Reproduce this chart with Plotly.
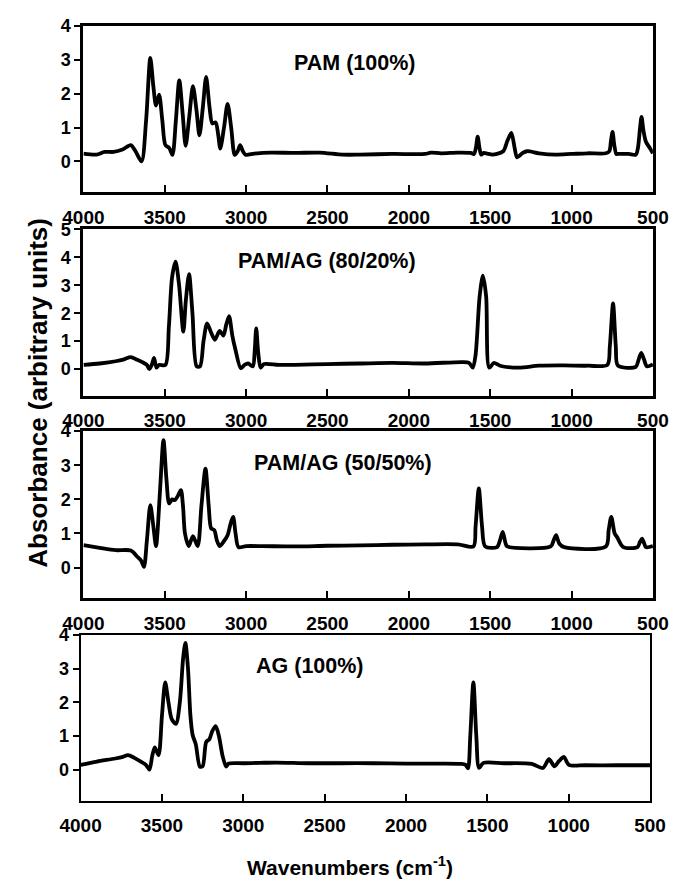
import plotly.graph_objects as go

# FTIR absorbance spectra (wavenumber in cm-1, absorbance in arbitrary units)
pam_wn = [4000, 3920, 3870, 3815, 3760, 3709, 3680, 3643, 3615, 3589, 3570, 3554, 3535, 3515,
          3496, 3473, 3453, 3432, 3411, 3390, 3372, 3350, 3327, 3305, 3287, 3266, 3246, 3225,
          3208, 3188, 3172, 3159, 3136, 3114, 3092, 3070, 3052, 3037, 3020, 3004, 2950, 2850,
          2700, 2550, 2407, 2300, 2100, 1900, 1865, 1800, 1700, 1620, 1600, 1588, 1577, 1566,
          1555, 1540, 1510, 1487, 1420, 1395, 1370, 1350, 1335, 1300, 1273, 1200, 1100, 1000,
          900, 790, 768, 758, 748, 738, 725, 717, 650, 605, 592, 580, 570, 558, 543, 520, 500]
pam_abs = [0.23, 0.20, 0.28, 0.28, 0.35, 0.48, 0.30, 0.00, 1.20, 3.05, 2.20, 1.65, 1.97, 1.20,
           0.48, 0.40, 0.19, 1.20, 2.39, 1.40, 0.46, 1.30, 2.22, 1.50, 0.77, 1.60, 2.49, 1.60,
           1.12, 1.15, 0.80, 0.38, 1.00, 1.70, 1.00, 0.19, 0.30, 0.48, 0.30, 0.20, 0.23, 0.26,
           0.25, 0.26, 0.20, 0.20, 0.22, 0.22, 0.26, 0.24, 0.26, 0.25, 0.22, 0.40, 0.73, 0.40,
           0.20, 0.25, 0.22, 0.20, 0.30, 0.60, 0.84, 0.40, 0.12, 0.25, 0.30, 0.24, 0.20, 0.22,
           0.24, 0.24, 0.30, 0.60, 0.87, 0.50, 0.22, 0.22, 0.22, 0.20, 0.40, 0.95, 1.31, 0.90,
           0.58, 0.40, 0.24]

blend8020_wn = [4000, 3900, 3802, 3750, 3709, 3670, 3638, 3610, 3595, 3580, 3566, 3551, 3535,
                3496, 3475, 3455, 3434, 3412, 3386, 3370, 3351, 3330, 3304, 3283, 3262, 3240,
                3215, 3192, 3163, 3140, 3122, 3105, 3085, 3066, 3033, 3010, 2988, 2959, 2948,
                2938, 2926, 2911, 2890, 2800, 2700, 2500, 2300, 2100, 1900, 1670, 1630, 1607,
                1590, 1565, 1545, 1525, 1506, 1477, 1440, 1322, 1200, 1050, 900, 780, 765, 745,
                728, 715, 605, 590, 572, 555, 537, 500]
blend8020_abs = [0.15, 0.20, 0.28, 0.35, 0.43, 0.33, 0.25, 0.15, 0.00, 0.15, 0.40, 0.05, 0.15,
                 0.15, 1.50, 3.30, 3.85, 3.00, 1.34, 2.50, 3.40, 2.00, 0.10, 0.10, 1.00, 1.64,
                 1.30, 1.05, 1.37, 1.20, 1.60, 1.90, 1.20, 0.70, 0.03, 0.15, 0.20, 0.10, 0.60,
                 1.46, 0.60, 0.05, 0.18, 0.15, 0.15, 0.18, 0.20, 0.22, 0.20, 0.25, 0.22, 0.05,
                 0.50, 2.60, 3.35, 2.60, 0.05, 0.22, 0.12, 0.05, 0.12, 0.13, 0.12, 0.15, 0.80, 2.35,
                 0.80, 0.12, 0.08, 0.30, 0.58, 0.35, 0.10, 0.17]

blend5050_wn = [4000, 3900, 3802, 3709, 3667, 3645, 3628, 3610, 3589, 3570, 3554, 3530, 3508,
                3490, 3473, 3455, 3438, 3420, 3401, 3388, 3376, 3353, 3327, 3298, 3275, 3250,
                3230, 3215, 3196, 3180, 3163, 3140, 3114, 3095, 3080, 3065, 3047, 3000, 2900,
                2700, 2500, 2300, 2100, 1900, 1700, 1603, 1590, 1570, 1550, 1531, 1458, 1440,
                1423, 1405, 1396, 1128, 1110, 1095, 1075, 1045, 789, 772, 756, 735, 721, 682,
                595, 580, 567, 553, 543, 500]
blend5050_abs = [0.66, 0.58, 0.51, 0.50, 0.31, 0.20, 0.02, 0.80, 1.83, 1.20, 0.63, 2.20, 3.74,
                 2.60, 1.88, 2.00, 1.98, 2.10, 2.27, 1.80, 1.00, 0.63, 0.92, 0.63, 1.80, 2.90,
                 1.80, 1.15, 1.10, 0.80, 0.63, 0.75, 0.95, 1.30, 1.49, 1.00, 0.60, 0.63, 0.63,
                 0.62, 0.64, 0.65, 0.67, 0.68, 0.68, 0.62, 1.20, 2.32, 1.20, 0.62, 0.60, 0.80,
                 1.05, 0.70, 0.62, 0.62, 0.80, 0.95, 0.70, 0.60, 0.62, 1.10, 1.49, 1.00, 0.90,
                 0.60, 0.60, 0.75, 0.85, 0.70, 0.60, 0.63]

ag_wn = [4000, 3900, 3787, 3740, 3709, 3670, 3631, 3600, 3577, 3560, 3544, 3521, 3500, 3480,
         3460, 3440, 3414, 3390, 3370, 3356, 3340, 3325, 3311, 3292, 3267, 3250, 3228, 3209,
         3190, 3170, 3150, 3127, 3105, 3090, 3000, 2900, 2800, 2600, 2400, 2200, 2000, 1800,
         1660, 1634, 1619, 1605, 1586, 1568, 1551, 1524, 1400, 1227, 1159, 1121, 1088, 1060,
         1030, 999, 900, 700, 500]
ag_abs = [0.14, 0.24, 0.33, 0.38, 0.43, 0.35, 0.24, 0.15, 0.00, 0.40, 0.66, 0.43, 1.60, 2.59,
          2.00, 1.50, 1.36, 2.00, 3.30, 3.76, 3.00, 1.60, 1.02, 0.75, 0.09, 0.10, 0.82, 0.90,
          1.15, 1.29, 1.00, 0.40, 0.09, 0.18, 0.19, 0.20, 0.21, 0.19, 0.19, 0.19, 0.18, 0.18,
          0.17, 0.14, 0.04, 1.00, 2.59, 1.00, 0.05, 0.20, 0.19, 0.17, 0.05, 0.31, 0.10, 0.25,
          0.38, 0.14, 0.13, 0.13, 0.13]

sample_names = ["PAM (100%)", "PAM/AG (80/20%)", "PAM/AG (50/50%)", "AG (100%)"]
spectra = [(pam_wn, pam_abs), (blend8020_wn, blend8020_abs),
           (blend5050_wn, blend5050_abs), (ag_wn, ag_abs)]
y_ranges = [[-0.9, 4], [-0.95, 5], [-0.9, 4], [-0.93, 4]]
x_tick_vals = [4000, 3500, 3000, 2500, 2000, 1500, 1000, 500]

W, H = 685, 885
# panel boxes in pixels: (left, right, top, bottom)
boxes = [(66, 668, 16, 184), (66, 668, 222, 390), (66, 668, 426, 595), (63, 665, 632, 800)]
frame_widths = [3, 3, 3, 1.8]
label_pos = [(353, 54), (324, 254), (340, 458), (305, 663)]

FONT = "Liberation Sans, Arial, sans-serif"

fig = go.Figure()
layout = dict(
    width=W, height=H,
    margin=dict(l=0, r=0, t=0, b=0),
    paper_bgcolor="white", plot_bgcolor="white",
    showlegend=False,
    font=dict(family=FONT, color="black"),
    annotations=[],
)

for i, ((wn, ab), name, yr, box, fw, lp) in enumerate(
        zip(spectra, sample_names, y_ranges, boxes, frame_widths, label_pos)):
    k = "" if i == 0 else str(i + 1)
    fig.add_trace(go.Scatter(
        x=wn, y=ab, mode="lines", xaxis="x" + k, yaxis="y" + k,
        line=dict(color="black", width=3.8, shape="spline", smoothing=0.8),
        hoverinfo="skip"))
    left, right, top, bottom = box
    layout["xaxis" + k] = dict(
        domain=[left / W, right / W], anchor="y" + k,
        range=[4000, 500], autorange=False,
        tickmode="array", tickvals=x_tick_vals,
        ticks="inside", ticklen=7, tickwidth=2, tickcolor="black",
        showline=True, linewidth=fw, linecolor="black", mirror=True,
        showgrid=False, zeroline=False,
        ticklabelstandoff=6,
        tickfont=dict(family=FONT, size=19, color="black", weight="bold"))
    layout["yaxis" + k] = dict(
        domain=[1 - bottom / H, 1 - top / H], anchor="x" + k,
        range=yr, autorange=False,
        tickmode="array", tickvals=list(range(0, int(yr[1]) + 1)),
        ticks="outside", ticklen=6, tickwidth=2, tickcolor="black",
        showline=True, linewidth=fw, linecolor="black", mirror=True,
        showgrid=False, zeroline=False,
        tickfont=dict(family=FONT, size=18, color="black", weight="bold"))
    layout["annotations"].append(dict(
        text=name, xref="paper", yref="paper",
        x=lp[0] / W, y=1 - lp[1] / H, xanchor="center", yanchor="middle",
        showarrow=False,
        font=dict(family=FONT, size=21.5, color="black", weight="bold")))

layout["annotations"].append(dict(
    text="Absorbance (arbitrary units)", xref="paper", yref="paper",
    x=18 / W, y=1 - 387 / H, xanchor="center", yanchor="middle",
    textangle=-90, showarrow=False,
    font=dict(family=FONT, size=26, color="black", weight="bold")))
layout["annotations"].append(dict(
    text="Wavenumbers (cm<sup>-1</sup>)", xref="paper", yref="paper",
    x=348 / W, y=1 - 866 / H, xanchor="center", yanchor="middle",
    showarrow=False,
    font=dict(family=FONT, size=21, color="black", weight="bold")))

fig.update_layout(**layout)
fig.write_html("out.html")
